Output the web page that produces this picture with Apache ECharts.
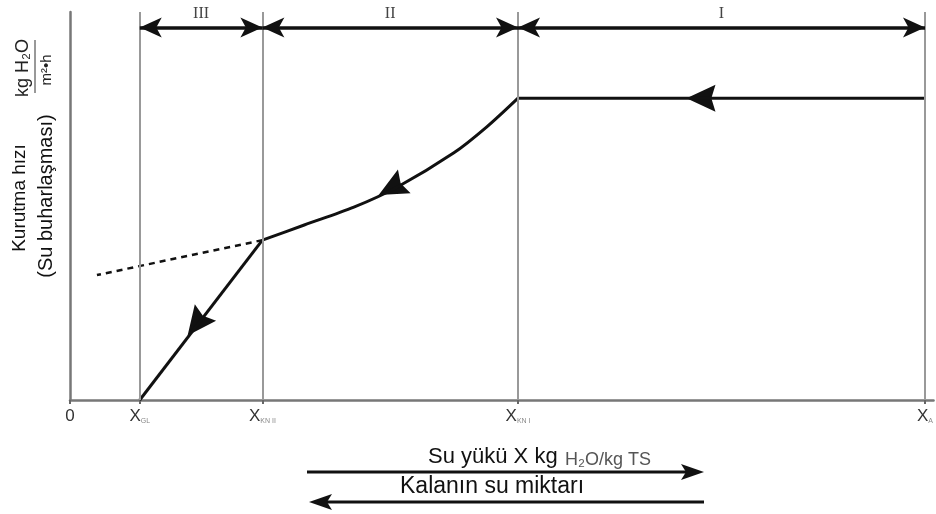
<!DOCTYPE html>
<html>
<head>
<meta charset="utf-8">
<script src="https://cdn.jsdelivr.net/npm/echarts@6/dist/echarts.min.js"></script>
<style>html,body{margin:0;padding:0;background:#fff}#c{width:936px;height:514px}</style>
</head>
<body>
<div id="c"></div>
<script>
// ---- data ----
const xTickValues = [0, 8.16, 22.5, 52.4, 100];
const xTickMain = ['0', 'X', 'X', 'X', 'X'];
const xTickSub = ['', 'GL', 'KN II', 'KN I', 'A'];
const zoneBounds = [8.16, 22.5, 52.4, 100];
const zoneLabels = ['III', 'II', 'I'];
const zoneArrowY = 96;
const constantRate = [[100, 77.8], [52.4, 77.8]];
const fallingRate1 = [[52.4, 77.8], [48.75, 70.4], [44.9, 63.7], [38.3, 54.9], [33.2, 49.7], [27.4, 45.1], [22.5, 41.2]];
const fallingRate2 = [[22.5, 41.2], [8.16, 0]];
const extrapolated = [[22.5, 41.2], [3.15, 32.2]];
const arrowPoints = [[73.8, 77.8], [37.6, 54.6], [14.8, 19.6]];
const arrowAngles = [90, 118, 142];

const FONT = "'Liberation Sans', Arial, sans-serif";
const SERIF = "'Liberation Serif', 'Times New Roman', serif";

const chart = echarts.init(document.getElementById('c'), null, {renderer: 'canvas'});

const curveStyle = {color: '#111', width: 3};

const zoneMarkData = zoneLabels.map((lab, i) => [
  {coord: [zoneBounds[i], zoneArrowY], label: {formatter: lab}},
  {coord: [zoneBounds[i + 1], zoneArrowY]}
]);

const option = {
  animation: false,
  grid: {left: 70, right: 0, top: 12, bottom: 114},
  xAxis: {
    type: 'value', min: 0, max: 101,
    splitLine: {show: false},
    axisLine: {lineStyle: {color: '#777', width: 2.5}},
    axisTick: {show: true, customValues: xTickValues, length: 4, lineStyle: {color: '#666', width: 2}},
    axisLabel: {
      customValues: xTickValues,
      margin: 8,
      formatter: function (v) {
        let idx = 0, best = 1e9;
        xTickValues.forEach((t, i) => { if (Math.abs(t - v) < best) { best = Math.abs(t - v); idx = i; } });
        return '{m|' + xTickMain[idx] + '}' + (xTickSub[idx] ? '{s|' + xTickSub[idx] + '}' : '');
      },
      rich: {
        m: {fontFamily: FONT, fontSize: 17, color: '#333'},
        s: {fontFamily: FONT, fontSize: 7, color: '#888', verticalAlign: 'bottom', padding: [9, 0, 0, 0]}
      }
    }
  },
  yAxis: {
    type: 'value', min: 0, max: 100,
    splitLine: {show: false},
    axisTick: {show: false},
    axisLabel: {show: false},
    axisLine: {show: true, lineStyle: {color: '#777', width: 2.5}}
  },
  series: [
    {
      type: 'line', data: [], silent: true,
      markLine: {
        silent: true, symbol: ['none', 'none'],
        label: {show: false},
        lineStyle: {color: '#999', width: 2, type: 'solid'},
        data: zoneBounds.map(v => ({xAxis: v}))
      }
    },
    {
      type: 'line', data: [], silent: true,
      markLine: {
        silent: true, symbol: ['arrow', 'arrow'], symbolSize: [15, 22],
        lineStyle: {color: '#111', width: 3.5, type: 'solid'},
        label: {show: true, position: 'insideMiddleTop', distance: 6, fontFamily: SERIF, fontSize: 16, color: '#444'},
        data: zoneMarkData
      }
    },
    {type: 'line', data: constantRate, showSymbol: false, lineStyle: curveStyle},
    {type: 'line', data: fallingRate1, showSymbol: false, smooth: 0.3, lineStyle: curveStyle},
    {type: 'line', data: fallingRate2, showSymbol: false, lineStyle: curveStyle},
    {type: 'line', data: extrapolated, showSymbol: false, lineStyle: {color: '#111', width: 2.5, type: [6, 5]}},
    {
      type: 'scatter', symbol: 'path://M14,0 L28,28 L14,24 L0,28 Z', symbolSize: [27, 29],
      itemStyle: {color: '#111', opacity: 1},
      data: arrowPoints.map((p, i) => ({value: p, symbolRotate: arrowAngles[i]}))
    }
  ],
  graphic: [
    {type: 'text', x: 20, y: 198, rotation: Math.PI / 2,
     style: {text: 'Kurutma hızı', font: '19px ' + FONT, fill: '#111', align: 'center', verticalAlign: 'middle'}},
    {type: 'text', x: 46, y: 196, rotation: Math.PI / 2,
     style: {text: '(Su buharlaşması)', font: '20px ' + FONT, fill: '#111', align: 'center', verticalAlign: 'middle'}},
    {type: 'text', x: 23, y: 68, rotation: Math.PI / 2,
     style: {text: 'kg H₂O', font: '18px ' + FONT, fill: '#222', align: 'center', verticalAlign: 'middle'}},
    {type: 'line', shape: {x1: 35, y1: 40, x2: 35, y2: 93}, style: {stroke: '#333', lineWidth: 1}},
    {type: 'text', x: 47, y: 70, rotation: Math.PI / 2,
     style: {text: 'm²•h', font: '15px ' + FONT, fill: '#222', align: 'center', verticalAlign: 'middle'}},

    {type: 'text', x: 428, y: 457,
     style: {text: 'Su yükü X kg', font: '22px ' + FONT, fill: '#111', align: 'left', verticalAlign: 'middle'}},
    {type: 'text', x: 565, y: 460,
     style: {text: 'H₂O/kg TS', font: '18px ' + FONT, fill: '#555', align: 'left', verticalAlign: 'middle'}},
    {type: 'line', shape: {x1: 307, y1: 472, x2: 690, y2: 472}, style: {stroke: '#111', lineWidth: 3}},
    {type: 'polygon', shape: {points: [[704, 472], [681, 464], [686, 472], [681, 480]]}, style: {fill: '#111'}},
    {type: 'text', x: 400, y: 487,
     style: {text: 'Kalanın su miktarı', font: '23px ' + FONT, fill: '#111', align: 'left', verticalAlign: 'middle'}},
    {type: 'line', shape: {x1: 322, y1: 502, x2: 704, y2: 502}, style: {stroke: '#111', lineWidth: 3}},
    {type: 'polygon', shape: {points: [[309, 502], [332, 494], [327, 502], [332, 510]]}, style: {fill: '#111'}}
  ]
};
chart.setOption(option);
</script>
</body>
</html>
